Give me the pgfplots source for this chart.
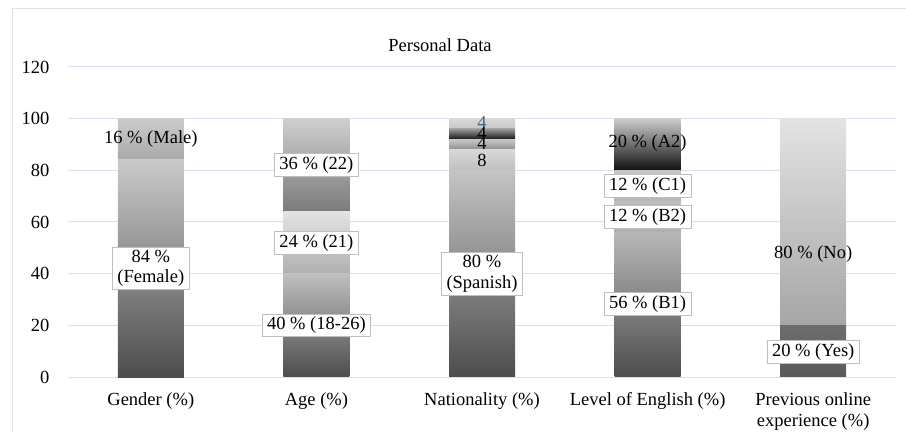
\documentclass[border=0pt]{standalone}
\usepackage{pgfplots}
\pgfplotsset{compat=1.18}
\usepackage{fontspec}
\setmainfont{Liberation Serif}
\definecolor{gridc}{HTML}{D6E0F0}
\definecolor{framec}{HTML}{DCE4F0}
\definecolor{boxc}{HTML}{BFBFBF}
\definecolor{bluec}{HTML}{44628C}
\tikzset{lbl/.style={draw=boxc, fill=white, line width=0.8bp, inner xsep=5bp, inner ysep=3bp, align=center}}
\begin{document}
\begin{tikzpicture}[font=\fontsize{18.5bp}{20.5bp}\selectfont]
\path[use as bounding box] (-68bp,-55bp) rectangle (838bp,377bp);
\draw[framec, line width=0.8bp] (-56bp,-80bp) rectangle (870bp,369bp);
\node at (372bp,332bp) {Personal Data};
\pgfplotsset{
  base/.style={scale only axis, width=828bp, height=310bp,
    xmin=-0.5, xmax=4.5, ymin=0, ymax=120, ybar stacked, bar width=66bp,
    at={(0,0)}, anchor=south west},
  hid/.style={base, hide axis},
}
% Gender
\begin{axis}[base, ymajorgrids, grid style={gridc, line width=1bp},
  axis line style={draw=none}, major tick length=0pt,
  ytick={0,20,...,120}, xtick={0,1,2,3,4},
  xticklabels={Gender (\%), Age (\%), Nationality (\%), Level of English (\%), {Previous online\\experience (\%)}},
  xticklabel style={align=center, yshift=-12bp},
  yticklabel style={xshift=-15bp},
  /pgf/number format/assume math mode=true,
  tick label style={font=\fontsize{18.5bp}{21bp}\selectfont}]
\addplot[draw=none, bottom color=black!70, top color=black!21] coordinates {(0,84)};
\addplot[draw=none, bottom color=black!34, top color=black!20] coordinates {(0,16)};
\end{axis}
% Age
\begin{axis}[hid]
\addplot[draw=none, bottom color=black!70, top color=black!25] coordinates {(1,40)};
\addplot[draw=none, bottom color=black!31, top color=black!11] coordinates {(1,24)};
\addplot[draw=none, bottom color=black!52, top color=black!19] coordinates {(1,36)};
\end{axis}
% Nationality
\begin{axis}[hid]
\addplot[draw=none, bottom color=black!70, top color=black!23] coordinates {(2,80)};
\addplot[draw=none, bottom color=black!25, top color=black!15] coordinates {(2,8)};
\addplot[draw=none, bottom color=black!44, top color=black!22] coordinates {(2,4)};
\addplot[draw=none, bottom color=black!92, top color=black!40] coordinates {(2,4)};
\addplot[draw=none, bottom color=black!22, top color=black!15] coordinates {(2,4)};
\end{axis}
% English
\begin{axis}[hid]
\addplot[draw=none, bottom color=black!70, top color=black!28] coordinates {(3,56)};
\addplot[draw=none, bottom color=black!31, top color=black!26] coordinates {(3,12)};
\addplot[draw=none, bottom color=black!29, top color=black!23] coordinates {(3,12)};
\addplot[draw=none, bottom color=black!94, top color=black!20] coordinates {(3,20)};
\end{axis}
% Previous
\begin{axis}[hid]
\addplot[draw=none, bottom color=black!65, top color=black!57] coordinates {(4,20)};
\addplot[draw=none, bottom color=black!35, top color=black!11] coordinates {(4,80)};
\end{axis}
% Labels
\begin{axis}[hid]
\node[lbl] at (axis cs:0,42) {84 \%\\(Female)};
\node at (axis cs:0,92) {16 \% (Male)};
\node[lbl] at (axis cs:1,20) {40 \% (18-26)};
\node[lbl] at (axis cs:1,52) {24 \% (21)};
\node[lbl] at (axis cs:1,82) {36 \% (22)};
\node[lbl] at (axis cs:2,40) {80 \%\\(Spanish)};
\node at (axis cs:2,83.8) {8};
\node at (axis cs:2,90.6) {4};
\node at (axis cs:2,94.4) {4};
\node[text=bluec] at (axis cs:2,98.4) {4};
\node[lbl] at (axis cs:3,28.2) {56 \% (B1)};
\node[lbl] at (axis cs:3,62) {12 \% (B2)};
\node[lbl] at (axis cs:3,73.9) {12 \% (C1)};
\node at (axis cs:3,90.6) {20 \% (A2)};
\node at (axis cs:4,47.6) {80 \% (No)};
\node[lbl] at (axis cs:4,9.7) {20 \% (Yes)};
\end{axis}
\end{tikzpicture}
\end{document}
